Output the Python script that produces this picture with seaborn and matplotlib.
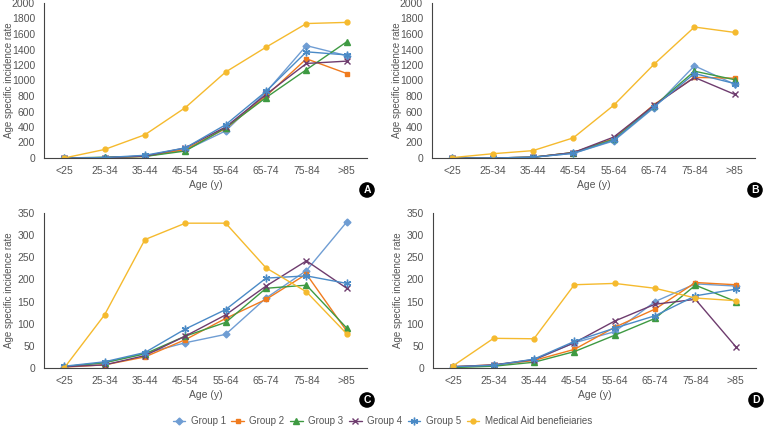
import numpy as np
import matplotlib
matplotlib.use("Agg")
import matplotlib.pyplot as plt
import seaborn as sns

sns.set_style("white")
plt.rcParams["font.family"] = ["Liberation Sans Narrow", "Liberation Sans", "DejaVu Sans"]

ages = ["<25", "25-34", "35-44", "45-54", "55-64", "65-74", "75-84", ">85"]
groups = ["Group 1", "Group 2", "Group 3", "Group 4", "Group 5", "Medical Aid benefieiaries"]

# panel A
a_g1 = [0, 5, 25, 100, 350, 850, 1450, 1320]
a_g2 = [0, 5, 20, 110, 380, 800, 1280, 1090]
a_g3 = [0, 10, 20, 90, 390, 780, 1140, 1500]
a_g4 = [0, 5, 25, 130, 400, 820, 1220, 1250]
a_g5 = [0, 5, 35, 130, 430, 860, 1370, 1330]
a_med = [0, 110, 300, 650, 1110, 1430, 1735, 1750]

# panel B
b_g1 = [0, 0, 10, 60, 220, 650, 1190, 950]
b_g2 = [0, 0, 10, 70, 250, 690, 1040, 1030]
b_g3 = [0, 0, 10, 70, 240, 670, 1120, 1010]
b_g4 = [0, 0, 10, 70, 270, 680, 1040, 820]
b_g5 = [0, 0, 10, 60, 230, 660, 1090, 960]
b_med = [5, 55, 95, 260, 680, 1210, 1690, 1620]

# panel C
c_g1 = [3, 12, 33, 57, 76, 158, 220, 330]
c_g2 = [2, 7, 25, 64, 112, 155, 212, 83]
c_g3 = [3, 12, 32, 72, 103, 180, 187, 90]
c_g4 = [3, 7, 28, 72, 120, 185, 242, 180]
c_g5 = [4, 14, 35, 88, 132, 203, 208, 191]
c_med = [0, 120, 290, 327, 327, 226, 172, 77]

# panel D
d_g1 = [2, 6, 18, 57, 82, 150, 190, 185]
d_g2 = [3, 7, 17, 42, 92, 133, 193, 188]
d_g3 = [1, 4, 13, 37, 74, 112, 187, 150]
d_g4 = [3, 7, 19, 57, 106, 144, 155, 48]
d_g5 = [3, 6, 20, 60, 90, 118, 163, 178]
d_med = [5, 67, 66, 188, 191, 180, 158, 152]

panels = {
    "A": [a_g1, a_g2, a_g3, a_g4, a_g5, a_med],
    "B": [b_g1, b_g2, b_g3, b_g4, b_g5, b_med],
    "C": [c_g1, c_g2, c_g3, c_g4, c_g5, c_med],
    "D": [d_g1, d_g2, d_g3, d_g4, d_g5, d_med],
}

colors = ["#6F9DD3", "#F07B1E", "#3E9A42", "#6E3C6E", "#4A8AC6", "#F5BA2E"]
markers = ["D", "s", "^", "x", (6, 2, 0), "o"]
msizes = [3.5, 3.5, 4, 4, 5.5, 3.5]

txt = "#555555"

fig = plt.figure(figsize=(7.65, 4.32), dpi=100)
W, H = 765, 432
# axes boxes in pixels: left, top, right, bottom
boxes = {
    "A": (44, 3, 367, 158),
    "B": (432, 3, 755, 158),
    "C": (44, 213, 367, 368),
    "D": (433, 213, 756, 368),
}

handles = []
for name, series in panels.items():
    x0, y0, x1, y1 = boxes[name]
    ax = fig.add_axes([x0 / W, 1 - y1 / H, (x1 - x0) / W, (y1 - y0) / H])
    for i, vals in enumerate(series):
        sns.lineplot(x=ages, y=vals, ax=ax, color=colors[i], marker=markers[i],
                     markersize=msizes[i], markeredgecolor=colors[i],
                     markeredgewidth=1, linewidth=1, sort=False, label=groups[i])
    ax.get_legend().remove()
    if name == "A":
        handles = ax.get_lines()
    ax.set_xlim(-0.5, 7.5)
    if name in ("A", "B"):
        ax.set_ylim(0, 2000)
        ax.set_yticks(np.arange(0, 2001, 200))
    else:
        ax.set_ylim(0, 350)
        ax.set_yticks(np.arange(0, 351, 50))
    ax.set_xticks(range(8))
    ax.set_xticklabels(ages)
    ax.set_xticks(np.arange(-0.5, 8, 1), minor=True)
    ax.tick_params(axis="x", which="major", length=0, pad=6, labelsize=7.5, colors=txt)
    ax.tick_params(axis="x", which="minor", length=3, direction="out", color="#444444")
    ax.tick_params(axis="y", length=3, direction="out", labelsize=7.5, colors=txt, color="#444444")
    ax.set_xlabel("Age (y)", fontsize=7.5, color=txt, labelpad=3)
    ax.set_ylabel("Age specific incidence rate", fontsize=7, color=txt)
    ax.yaxis.set_label_coords(-30 / (x1 - x0), 0.5)
    for s in ["top", "right"]:
        ax.spines[s].set_visible(False)
    for s in ["left", "bottom"]:
        ax.spines[s].set_color("#444444")
        ax.spines[s].set_linewidth(0.8)
    # panel letter badge
    fig.text(x1 / W, 1 - (y1 + 32) / H, name, ha="center", va="center", color="white",
             fontsize=7.5, fontweight="bold", family=["Liberation Sans", "DejaVu Sans"],
             bbox=dict(boxstyle="circle,pad=0.2", fc="black", ec="black"))

fig.legend(handles, groups, loc="center", bbox_to_anchor=(0.5, 1 - 421 / H), ncol=6,
           frameon=False, fontsize=7, labelcolor=txt, handlelength=1.25,
           columnspacing=0.6, handletextpad=0.6)

plt.savefig("out.png", dpi=100)
plt.close()
